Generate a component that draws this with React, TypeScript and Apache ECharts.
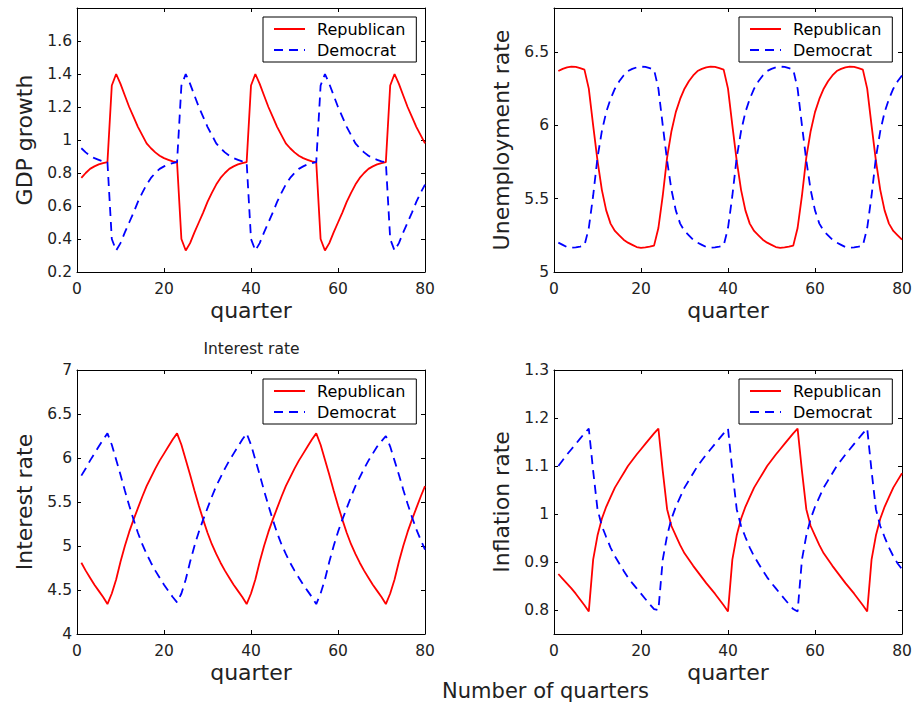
import React, { useEffect, useRef } from "react";
import * as echarts from "echarts";

const FONT = "DejaVu Sans";

// quarter index on the horizontal axis
const quarters = Array.from({ length: 80 }, (_, i) => i + 1);
const xTicks = [0, 20, 40, 60, 80];

// tick labels for each panel
const gdpTicks = [0.2, 0.4, 0.6, 0.8, 1, 1.2, 1.4, 1.6];
const unempTicks = [5, 5.5, 6, 6.5];
const intTicks = [4, 4.5, 5, 5.5, 6, 6.5, 7];
const infTicks = [0.8, 0.9, 1, 1.1, 1.2, 1.3];

const seriesNames = ["Republican", "Democrat"];

// GDP growth
const gdpRep = [
  0.77, 0.8, 0.825, 0.84, 0.852, 0.86, 0.866,
  1.33,
  1.4, 1.34, 1.27, 1.2, 1.14, 1.08, 1.03, 0.98, 0.95, 0.925, 0.905, 0.89, 0.88, 0.87, 0.865,
  0.4,
  0.33, 0.375, 0.44, 0.5, 0.56, 0.625, 0.68, 0.73, 0.77, 0.8, 0.825, 0.84, 0.852, 0.86, 0.866,
  1.33,
  1.4, 1.34, 1.27, 1.2, 1.14, 1.08, 1.03, 0.98, 0.95, 0.925, 0.905, 0.89, 0.88, 0.87, 0.865,
  0.4,
  0.33, 0.375, 0.44, 0.5, 0.56, 0.625, 0.68, 0.73, 0.77, 0.8, 0.825, 0.84, 0.852, 0.86, 0.866,
  1.33,
  1.4, 1.34, 1.27, 1.2, 1.14, 1.08, 1.03, 0.98,
];
const gdpDem = [
  0.95, 0.925, 0.905, 0.89, 0.88, 0.87, 0.865,
  0.4,
  0.33, 0.375, 0.44, 0.5, 0.56, 0.625, 0.68, 0.73, 0.77, 0.8, 0.825, 0.84, 0.852, 0.86, 0.866,
  1.33,
  1.4, 1.34, 1.27, 1.2, 1.14, 1.08, 1.03, 0.98, 0.95, 0.925, 0.905, 0.89, 0.88, 0.87, 0.865,
  0.4,
  0.33, 0.375, 0.44, 0.5, 0.56, 0.625, 0.68, 0.73, 0.77, 0.8, 0.825, 0.84, 0.852, 0.86, 0.866,
  1.33,
  1.4, 1.34, 1.27, 1.2, 1.14, 1.08, 1.03, 0.98, 0.95, 0.925, 0.905, 0.89, 0.88, 0.87, 0.865,
  0.4,
  0.33, 0.375, 0.44, 0.5, 0.56, 0.625, 0.68, 0.73,
];

// Unemployment rate
const unempRep = [
  6.37, 6.385, 6.395, 6.4, 6.398, 6.39, 6.38,
  6.25, 6.0, 5.76, 5.56, 5.42, 5.33, 5.28, 5.25, 5.22, 5.2, 5.185, 5.17, 5.165, 5.168, 5.173, 5.18,
  5.3, 5.52, 5.78, 5.96, 6.09, 6.18, 6.25, 6.3, 6.34, 6.37, 6.385, 6.395, 6.4, 6.398, 6.39, 6.38,
  6.25, 6.0, 5.76, 5.56, 5.42, 5.33, 5.28, 5.25, 5.22, 5.2, 5.185, 5.17, 5.165, 5.168, 5.173, 5.18,
  5.3, 5.52, 5.78, 5.96, 6.09, 6.18, 6.25, 6.3, 6.34, 6.37, 6.385, 6.395, 6.4, 6.398, 6.39, 6.38,
  6.25, 6.0, 5.76, 5.56, 5.42, 5.33, 5.28, 5.25, 5.22,
];
const unempDem = [
  5.2, 5.185, 5.17, 5.165, 5.168, 5.173, 5.18,
  5.3, 5.52, 5.78, 5.96, 6.09, 6.18, 6.25, 6.3, 6.34, 6.37, 6.385, 6.395, 6.4, 6.398, 6.39, 6.38,
  6.25, 6.0, 5.76, 5.56, 5.42, 5.33, 5.28, 5.25, 5.22, 5.2, 5.185, 5.17, 5.165, 5.168, 5.173, 5.18,
  5.3, 5.52, 5.78, 5.96, 6.09, 6.18, 6.25, 6.3, 6.34, 6.37, 6.385, 6.395, 6.4, 6.398, 6.39, 6.38,
  6.25, 6.0, 5.76, 5.56, 5.42, 5.33, 5.28, 5.25, 5.22, 5.2, 5.185, 5.17, 5.165, 5.168, 5.173, 5.18,
  5.3, 5.52, 5.78, 5.96, 6.09, 6.18, 6.25, 6.3, 6.34,
];

// Interest rate
const intRep = [
  4.81, 4.72, 4.64, 4.56, 4.49, 4.42, 4.34,
  4.46, 4.62, 4.82, 5.0, 5.16, 5.3, 5.43, 5.56, 5.68, 5.78, 5.88, 5.97, 6.05, 6.13, 6.21, 6.28,
  6.15, 5.98, 5.81, 5.63, 5.46, 5.3, 5.15, 5.02, 4.91, 4.81, 4.72, 4.64, 4.56, 4.49, 4.42, 4.34,
  4.46, 4.62, 4.82, 5.0, 5.16, 5.3, 5.43, 5.56, 5.68, 5.78, 5.88, 5.97, 6.05, 6.13, 6.21, 6.28,
  6.15, 5.98, 5.81, 5.63, 5.46, 5.3, 5.15, 5.02, 4.91, 4.81, 4.72, 4.64, 4.56, 4.49, 4.42, 4.34,
  4.46, 4.62, 4.82, 5.0, 5.16, 5.3, 5.43, 5.56, 5.68,
];
const intDem = [
  5.8, 5.88, 5.97, 6.05, 6.13, 6.21, 6.28,
  6.15, 5.98, 5.81, 5.63, 5.46, 5.3, 5.15, 5.02, 4.91, 4.81, 4.72, 4.64, 4.56, 4.49, 4.42, 4.36,
  4.46, 4.62, 4.82, 5.0, 5.16, 5.3, 5.43, 5.56, 5.68, 5.78, 5.88, 5.97, 6.05, 6.13, 6.21, 6.28,
  6.15, 5.98, 5.81, 5.63, 5.46, 5.3, 5.15, 5.02, 4.91, 4.81, 4.72, 4.64, 4.56, 4.49, 4.42, 4.34,
  4.46, 4.62, 4.82, 5.0, 5.16, 5.3, 5.43, 5.56, 5.68, 5.78, 5.88, 5.97, 6.05, 6.13, 6.19, 6.25,
  6.13, 5.97, 5.81, 5.64, 5.48, 5.33, 5.19, 5.07, 4.96,
];

// Inflation rate
const infRep = [
  0.875, 0.865, 0.855, 0.845, 0.834, 0.822, 0.81, 0.797,
  0.905, 0.955, 0.99, 1.015, 1.035, 1.055, 1.07, 1.085, 1.1, 1.112, 1.124, 1.135, 1.146, 1.157, 1.168, 1.178,
  1.09, 1.01, 0.975, 0.955, 0.935, 0.918, 0.905, 0.892, 0.88, 0.868, 0.856, 0.845, 0.834, 0.822, 0.81, 0.797,
  0.905, 0.955, 0.99, 1.015, 1.035, 1.055, 1.07, 1.085, 1.1, 1.112, 1.124, 1.135, 1.146, 1.157, 1.168, 1.178,
  1.09, 1.01, 0.975, 0.955, 0.935, 0.918, 0.905, 0.892, 0.88, 0.868, 0.856, 0.845, 0.834, 0.822, 0.81, 0.797,
  0.905, 0.955, 0.99, 1.015, 1.035, 1.055, 1.07, 1.085,
];
const infDem = [
  1.1, 1.112, 1.124, 1.135, 1.146, 1.157, 1.168, 1.178,
  1.09, 1.01, 0.975, 0.952, 0.93, 0.912, 0.897, 0.882, 0.868, 0.856, 0.845, 0.834, 0.823, 0.812, 0.802, 0.8,
  0.905, 0.955, 0.99, 1.015, 1.035, 1.055, 1.07, 1.085, 1.1, 1.112, 1.124, 1.135, 1.146, 1.157, 1.168, 1.178,
  1.09, 1.01, 0.975, 0.952, 0.93, 0.912, 0.897, 0.882, 0.868, 0.856, 0.845, 0.834, 0.823, 0.812, 0.802, 0.797,
  0.905, 0.955, 0.99, 1.015, 1.035, 1.055, 1.07, 1.085, 1.1, 1.112, 1.124, 1.135, 1.146, 1.157, 1.168, 1.178,
  1.09, 1.01, 0.975, 0.952, 0.93, 0.912, 0.897, 0.885,
];

const panels = [
  { yName: "GDP growth", min: 0.2, max: 1.8, ticks: gdpTicks, rep: gdpRep, dem: gdpDem },
  { yName: "Unemployment rate", min: 5, max: 6.8, ticks: unempTicks, rep: unempRep, dem: unempDem },
  { yName: "Interest rate", min: 4, max: 7, ticks: intTicks, rep: intRep, dem: intDem },
  { yName: "Inflation rate", min: 0.75, max: 1.3, ticks: infTicks, rep: infRep, dem: infDem },
];

const gridBoxes = [
  { left: 77, top: 8, width: 348, height: 264 },
  { left: 554, top: 8, width: 348, height: 264 },
  { left: 77, top: 370, width: 348, height: 264 },
  { left: 554, top: 370, width: 348, height: 264 },
];

const legendPos = [
  { left: 263, top: 17 },
  { left: 739, top: 17 },
  { left: 263, top: 379 },
  { left: 739, top: 379 },
];

const pairs = (vals: number[]) => quarters.map((q, i) => [q, vals[i]]);

function buildOption() {
  const axisLine = { show: true, onZero: false, lineStyle: { color: "#000", width: 1 } };
  const xAxis: any[] = [];
  const yAxis: any[] = [];
  const series: any[] = [];

  panels.forEach((p, i) => {
    xAxis.push({
      type: "value",
      gridIndex: i,
      min: 0,
      max: 80,
      interval: 20,
      position: "bottom",
      axisLine,
      axisTick: { inside: true, length: 4, lineStyle: { color: "#000" }, customValues: xTicks },
      axisLabel: { customValues: xTicks, fontSize: 15.5, color: "#222", fontFamily: FONT, margin: 9 },
      splitLine: { show: false },
      name: "quarter",
      nameLocation: "middle",
      nameGap: 27,
      nameTextStyle: { fontSize: 22, color: "#222", fontFamily: FONT },
    });
    xAxis.push({
      type: "value",
      gridIndex: i,
      min: 0,
      max: 80,
      interval: 20,
      position: "top",
      axisLine,
      axisTick: { inside: true, length: 4, lineStyle: { color: "#000" }, customValues: xTicks },
      axisLabel: { show: false },
      splitLine: { show: false },
    });
    yAxis.push({
      type: "value",
      gridIndex: i,
      min: p.min,
      max: p.max,
      position: "left",
      axisLine,
      axisTick: { inside: true, length: 4, lineStyle: { color: "#000" }, customValues: p.ticks },
      axisLabel: { customValues: p.ticks, fontSize: 15.5, color: "#222", fontFamily: FONT, margin: 5 },
      splitLine: { show: false },
      name: p.yName,
      nameLocation: "middle",
      nameGap: 42,
      nameTextStyle: { fontSize: 22, color: "#222", fontFamily: FONT },
    });
    yAxis.push({
      type: "value",
      gridIndex: i,
      min: p.min,
      max: p.max,
      position: "right",
      axisLine,
      axisTick: { inside: true, length: 4, lineStyle: { color: "#000" }, customValues: p.ticks },
      axisLabel: { show: false },
      splitLine: { show: false },
    });
    series.push({
      type: "line",
      name: seriesNames[0],
      xAxisIndex: 2 * i,
      yAxisIndex: 2 * i,
      data: pairs(p.rep),
      symbol: "none",
      showSymbol: false,
      lineStyle: { color: "#ff0000", width: 1.8 },
      itemStyle: { color: "#ff0000" },
    });
    series.push({
      type: "line",
      name: seriesNames[1],
      xAxisIndex: 2 * i,
      yAxisIndex: 2 * i,
      data: pairs(p.dem),
      symbol: "none",
      showSymbol: false,
      lineStyle: { color: "#0000ff", width: 1.8, type: [9, 6] },
      itemStyle: { color: "#0000ff" },
    });
  });

  const legend = legendPos.map((pos) => ({
    ...pos,
    orient: "vertical",
    data: seriesNames,
    itemWidth: 31,
    itemHeight: 14,
    itemGap: 5,
    padding: [4, 11, 4, 10],
    borderColor: "#000",
    borderWidth: 1,
    backgroundColor: "#fff",
    selectedMode: false,
    itemStyle: { color: "transparent", borderWidth: 0, opacity: 0 },
    textStyle: { fontSize: 16, color: "#000", fontFamily: FONT, padding: [0, 0, 0, 7] },
  }));

  return {
    animation: false,
    backgroundColor: "#fff",
    textStyle: { fontFamily: FONT },
    title: [
      {
        text: "Interest rate",
        left: 251.5,
        top: 341,
        textAlign: "center",
        padding: 0,
        textStyle: { fontSize: 15.5, fontWeight: "normal", color: "#222", fontFamily: FONT },
      },
      {
        text: "Number of quarters",
        left: 545.5,
        top: 680,
        textAlign: "center",
        padding: 0,
        textStyle: { fontSize: 21, fontWeight: "normal", color: "#222", fontFamily: FONT },
      },
    ],
    legend,
    grid: gridBoxes.map((g) => ({ ...g, containLabel: false, outerBoundsMode: "none" })),
    xAxis,
    yAxis,
    series,
  };
}

export default function App() {
  const ref = useRef<HTMLDivElement>(null);
  useEffect(() => {
    const chart = echarts.init(ref.current!, null, { renderer: "svg" });
    chart.setOption(buildOption() as any);
    return () => chart.dispose();
  }, []);
  return (
    <div
      ref={ref}
      style={{ position: "absolute", left: 0, top: 0, width: 914, height: 708, background: "#fff" }}
    />
  );
}
